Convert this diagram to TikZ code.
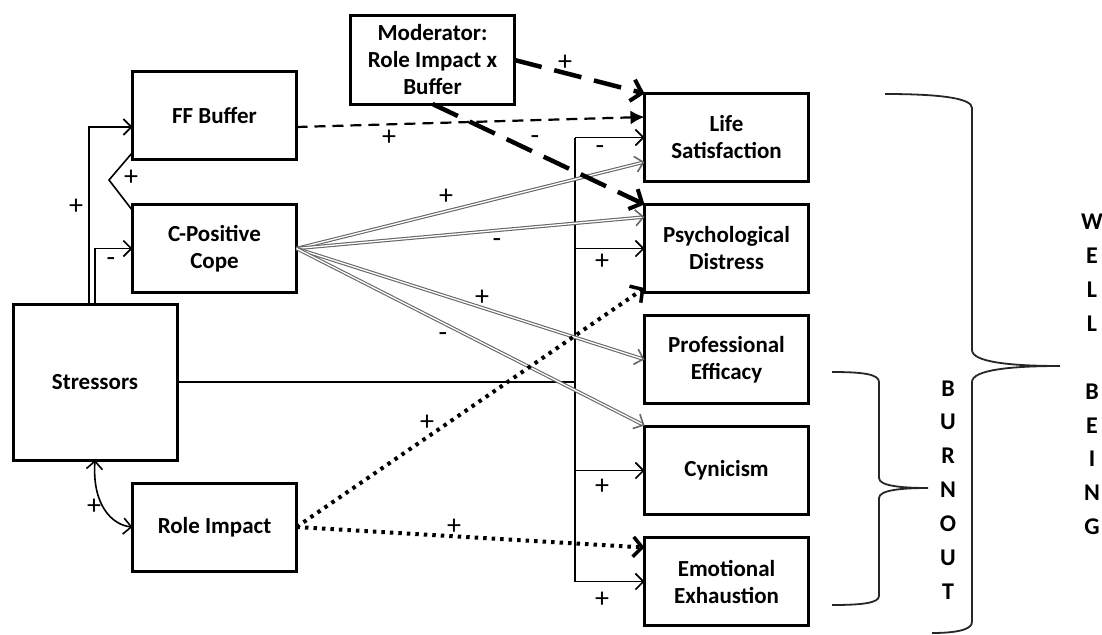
\documentclass[tikz,border=0pt]{standalone}
\usepackage{fontspec}
\setmainfont{Carlito}
\usetikzlibrary{arrows.meta, positioning, calc}

\begin{document}
\begin{tikzpicture}[
  x=1pt, y=-1pt,
  node distance=23pt and 40pt,
  every node/.style={font=\fontsize{23}{27}\selectfont\bfseries},
  box/.style={
    rectangle, draw=black, line width=3pt, outer sep=0pt,
    minimum width=164pt, minimum height=88pt,
    align=center, inner sep=2pt
  },
  thinarrow/.style={-{Straight Barb[length=8pt, width=16pt, line width=1.6pt]}, line width=1.6pt},
  dbl/.style={draw=black!60, double=white, double distance=1.3pt, line width=1.1pt,
              -{Straight Barb[length=8pt, width=16pt, line width=1.6pt]}},
  ffdash/.style={-{Latex[length=14pt, width=14pt]}, line width=2.2pt, dash pattern=on 11pt off 7pt},
  moddash/.style={-{Straight Barb[length=10pt, width=22pt, line width=4pt]},
                  line width=4.5pt, dash pattern=on 28pt off 13pt},
  roledot/.style={-{Straight Barb[length=9pt, width=20pt, line width=3.5pt]},
                  line width=4pt, dash pattern=on 3.5pt off 5pt},
  brace/.style={line width=1.8pt, draw=black!85},
  sign/.style={font=\fontsize{28}{28}\selectfont, inner sep=0pt},
  letters/.style={font=\fontsize{24}{33.9}\selectfont\bfseries, align=center, inner sep=0pt}
]
\useasboundingbox (0,0) rectangle (1102,634);

%% ─── Predictors ─────────────────────────────────────────────────────────────
\node[box] (ff) at (214.5,115.5) {FF Buffer};
\node[box, below=45pt of ff] (cope) {C-Positive\\Cope};
\node[box, minimum height=156pt] (stress) at (95,382) {Stressors};
\node[box] (role) at (214.5,527) {Role Impact};
\node[box] (mod) at (432.5,60) {Moderator:\\Role Impact x\\Buffer};

%% ─── Outcomes ───────────────────────────────────────────────────────────────
\node[box] (life) at (726.5,137.5) {Life\\Satisfaction};
\node[box, below=of life]  (psych) {Psychological\\Distress};
\node[box, below=of psych] (prof)  {Professional\\Efficacy};
\node[box, below=of prof]  (cyn)   {Cynicism};
\node[box, below=of cyn]   (ee)    {Emotional\\Exhaustion};

%% ─── Stressors paths ────────────────────────────────────────────────────────
\coordinate (bus) at (575,382);
\draw[thinarrow] ([xshift=-6pt]stress.north) |- ([yshift=-11.5pt]ff.west);
\draw[thinarrow] (stress.north) |- (cope.west);
\draw[line width=1.6pt] ([yshift=7pt]ff.south west) -- (109,180) -- ([yshift=-6pt]cope.north west);
\draw[line width=1.6pt, {Straight Barb[length=8pt, width=16pt, line width=1.6pt]}-{Straight Barb[length=8pt, width=16pt, line width=1.6pt]}]
  (stress.south) .. controls (92,505) and (112,525) .. (role.west);

\draw[line width=2.8pt] (stress.east) -| (bus |- life.west);
\draw[line width=2pt] (bus) -- (bus |- ee.west);
\foreach \o in {life, psych, cyn, ee}
  \draw[thinarrow] (bus |- \o.west) -- (\o.west);

%% ─── C-Positive Cope paths ──────────────────────────────────────────────────
\draw[dbl] (cope.east) -- ([yshift=-24.5pt]life.west);
\draw[dbl] (cope.east) -- ([yshift=31.5pt]psych.west);
\draw[dbl] (cope.east) -- (prof.west);
\draw[dbl] (cope.east) -- ([yshift=1pt]cyn.north west);

%% ─── Buffer and moderator paths ─────────────────────────────────────────────
\draw[ffdash] ([yshift=-11.5pt]ff.east) -- ([yshift=20.5pt]life.west);
\draw[moddash] (mod.east) -- (life.north west);
\draw[moddash] (mod.south) -- (psych.north west);

%% ─── Role Impact paths ──────────────────────────────────────────────────────
\draw[roledot] (role.east) -- ([yshift=4.5pt]psych.south west);
\draw[roledot] (role.east) -- ([yshift=-10pt]ee.north west);

%% ─── Signs ──────────────────────────────────────────────────────────────────
\node[sign] at (76,207)  {+};
\node[sign] at (111,262) {-};
\node[sign] at (131,178) {+};
\node[sign] at (94,507)  {+};
\node[sign] at (389,138) {+};
\node[sign] at (565,63)  {+};
\node[sign] at (535,140) {-};
\node[sign] at (446,197) {+};
\node[sign] at (497,243) {-};
\node[sign] at (482,298) {+};
\node[sign] at (443,337) {-};
\node[sign] at (427,423) {+};
\node[sign] at (454,527) {+};
\node[sign] at (600,150) {-};
\node[sign] at (602,262) {+};
\node[sign] at (602,487) {+};
\node[sign] at (602,600) {+};

%% ─── Braces ─────────────────────────────────────────────────────────────────
\draw[brace] (832,372) .. controls (862,372) and (879,374) .. (879,382) -- (879,478)
  .. controls (879,486) and (902,488) .. (928,488)
  .. controls (902,488) and (879,490) .. (879,498) -- (879,596)
  .. controls (879,603) and (862,605) .. (832,605);
\draw[brace] (885,94) .. controls (945,94) and (972,99) .. (972,108) -- (972,350)
  .. controls (972,362) and (1010,366) .. (1060,366)
  .. controls (1010,366) and (972,370) .. (972,382) -- (972,622)
  .. controls (972,630) and (955,633) .. (932,633);

\node[letters] (burnout) at (948,490) {B\\U\\R\\N\\O\\U\\T};
\node[letters] (wellbeing) at (1092,374.5) {W\\E\\L\\L\\~\\B\\E\\I\\N\\G};

\end{tikzpicture}
\end{document}
